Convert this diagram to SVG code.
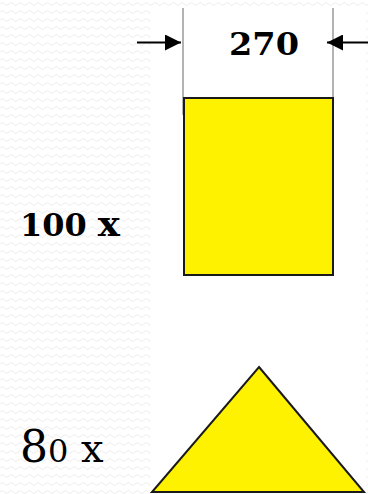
<svg xmlns="http://www.w3.org/2000/svg" width="368" height="494" viewBox="0 0 368 494">
  <style>
    .ext { stroke: #9a9a9a; stroke-width: 1.5; fill: none; }
    .arr { stroke: #000; stroke-width: 2; fill: none; }
    .shape { fill: #fff200; stroke: #1a1a1a; stroke-width: 2; }
    .bold { font-family: "DejaVu Serif", "Liberation Serif", serif; font-weight: bold; fill: #000; }
    .reg { font-family: "DejaVu Serif", "Liberation Serif", serif; fill: #000; }
  </style>
  <defs>
    <pattern id="wave" x="0" y="0" width="9" height="8" patternUnits="userSpaceOnUse">
      <path d="M0 4 Q2.25 1 4.5 4 T9 4" fill="none" stroke="#ececec" stroke-width="1"/>
    </pattern>
    <marker id="head" viewBox="0 0 16 16" refX="16" refY="8" markerWidth="16" markerHeight="16" markerUnits="userSpaceOnUse" orient="auto">
      <path d="M0 0 L16 8 L0 16 Z" fill="#000"/>
    </marker>
  </defs>

  <rect x="0" y="0" width="368" height="494" fill="#fff"/>
  <rect x="0" y="0" width="368" height="494" fill="url(#wave)"/>
  <rect x="151" y="8" width="215" height="486" fill="#fff"/>

  <g id="connectors">
    <line class="ext" x1="183" y1="8" x2="183" y2="115"/>
    <line class="ext" x1="333" y1="8" x2="333" y2="98"/>
    <line class="arr" x1="137" y1="42.5" x2="181" y2="42.5" marker-end="url(#head)"/>
    <line class="arr" x1="368" y1="42.5" x2="327" y2="42.5" marker-end="url(#head)"/>
  </g>

  <g id="dim-label">
    <text class="bold" x="229" y="55" font-size="31" textLength="70" lengthAdjust="spacingAndGlyphs">270</text>
  </g>

  <g id="rect-node">
    <rect class="shape" x="184" y="98" width="149" height="177"/>
  </g>

  <g id="label-100">
    <text class="bold" x="20" y="236" font-size="31" textLength="100" lengthAdjust="spacingAndGlyphs">100 <tspan font-size="36">x</tspan></text>
  </g>

  <g id="triangle-node">
    <polygon class="shape" points="259,367 364,492 152,492"/>
  </g>

  <g id="label-80">
    <text class="reg" x="20" y="462" font-size="44">8<tspan font-size="32">0</tspan><tspan font-size="40"> x</tspan></text>
  </g>
</svg>
